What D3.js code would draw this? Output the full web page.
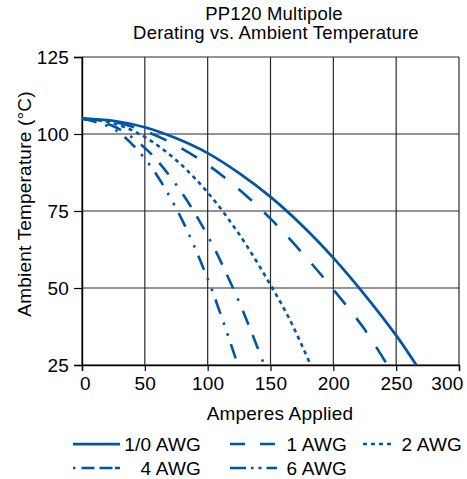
<!DOCTYPE html>
<html>
<head>
<meta charset="utf-8">
<script src="https://cdn.jsdelivr.net/npm/d3@7"></script>
<style>
  body { margin: 0; background: #fff; }
  svg { display: block; font-family: "Liberation Sans", Arial, sans-serif; }
  text { font-size: 19px; letter-spacing: 0.2px; }
</style>
</head>
<body>
<svg id="chart" width="467" height="479"></svg>
<script>
// values
const amps10 = [0, 25, 50, 75, 100, 125, 150, 175, 200, 225, 250, 266];
const temp10 = [105, 104.3, 102.2, 98.6, 93.8, 87.3, 79.6, 70.4, 59.8, 47.8, 34.6, 25];
const amps1 = [0, 25, 50, 75, 100, 125, 150, 175, 200, 225, 243];
const temp1 = [105, 104, 101, 96.3, 90, 82, 72.5, 61.5, 49.5, 36.5, 25];
const amps2 = [0, 25, 50, 75, 100, 125, 150, 165, 182];
const temp2 = [105, 103.5, 99, 91.5, 81, 67.5, 51, 40, 25];
const amps4 = [0, 25, 50, 75, 100, 125, 145];
const temp4 = [105, 102.5, 95.5, 83.5, 67, 45.5, 25];
const amps6 = [0, 25, 50, 75, 100, 124];
const temp6 = [105, 101.7, 92, 75.8, 53, 25];

const seriesNames = ["1/0 AWG", "1 AWG", "2 AWG", "4 AWG", "6 AWG"];
const xTicks = [0, 50, 100, 150, 200, 250, 300];
const yTicks = [25, 50, 75, 100, 125];
const titleLines = ["PP120 Multipole", "Derating vs. Ambient Temperature"];

const series = [
  {name: seriesNames[0], xs: amps10, ys: temp10, dash: null, w: 2.75},
  {name: seriesNames[1], xs: amps1, ys: temp1, dash: "18,17", w: 2.6},
  {name: seriesNames[2], xs: amps2, ys: temp2, dash: "4,4", w: 2.6},
  {name: seriesNames[3], xs: amps4, ys: temp4, dash: "15,11,15,11,2.5,11", w: 2.6},
  {name: seriesNames[4], xs: amps6, ys: temp6, dash: "15,9,2.5,9,2.5,9", w: 2.6}
];

const blue = "#0056a6";
const svg = d3.select("#chart");
const m = {left: 82, right: 459, top: 57, bottom: 365};

const x = d3.scaleLinear().domain([0, 300]).range([m.left, m.right]);
const y = d3.scaleLinear().domain([25, 125]).range([m.bottom, m.top]);

// grid
svg.append("g").selectAll("line").data(xTicks).enter().append("line")
  .attr("x1", d => x(d)).attr("x2", d => x(d))
  .attr("y1", m.top).attr("y2", m.bottom)
  .attr("stroke", "#2a2a2a").attr("stroke-width", 1.2);
svg.append("g").selectAll("line").data(yTicks).enter().append("line")
  .attr("x1", m.left).attr("x2", m.right)
  .attr("y1", d => y(d)).attr("y2", d => y(d))
  .attr("stroke", "#2a2a2a").attr("stroke-width", 1.2);

// axes
const xAxis = svg.append("g")
  .attr("transform", `translate(0,${m.bottom})`)
  .call(d3.axisBottom(x).tickValues(xTicks).tickSize(6).tickPadding(6));
const yAxis = svg.append("g")
  .attr("transform", `translate(${m.left},0)`)
  .call(d3.axisLeft(y).tickValues(yTicks).tickSize(8).tickPadding(5));

[xAxis, yAxis].forEach(g => {
  g.select(".domain").attr("stroke", "#000").attr("stroke-width", 1.4);
  g.selectAll(".tick line").attr("stroke", "#000").attr("stroke-width", 1.2);
  g.selectAll(".tick text").attr("fill", "#000")
    .style("font-size", "19px").style("font-family", "Liberation Sans, Arial, sans-serif");
});
// first and last x labels nudged as in the reference
xAxis.selectAll(".tick text").filter(d => d === 0).attr("dx", "3");
xAxis.selectAll(".tick text").filter(d => d === 300).attr("text-anchor", "end").attr("dx", "4");

// curves
const line = d3.line()
  .x(d => x(d[0])).y(d => y(d[1]))
  .curve(d3.curveCatmullRom.alpha(0.5));

svg.append("defs").append("clipPath").attr("id", "plotclip")
  .append("rect").attr("x", m.left - 4).attr("y", m.top)
  .attr("width", m.right - m.left + 4).attr("height", m.bottom - m.top + 2);

svg.append("g").attr("clip-path", "url(#plotclip)")
  .selectAll("path").data(series).enter().append("path")
  .attr("d", s => line(s.xs.map((v, i) => [v, s.ys[i]])))
  .attr("fill", "none")
  .attr("stroke", blue)
  .attr("stroke-width", s => s.w)
  .attr("stroke-dasharray", s => s.dash);

// titles
svg.append("text").attr("x", 274).attr("y", 20).attr("text-anchor", "middle")
  .style("font-size", "18.5px").text(titleLines[0]);
svg.append("text").attr("x", 276).attr("y", 39).attr("text-anchor", "middle")
  .style("font-size", "18.5px").text(titleLines[1]);

svg.append("text").attr("x", 280).attr("y", 420).attr("text-anchor", "middle")
  .text("Amperes Applied");
svg.append("text")
  .attr("transform", "translate(31,204) rotate(-90)")
  .attr("text-anchor", "middle")
  .text("Ambient Temperature (°C)");

// legend
const legendPos = [
  {x1: 73, x2: 120, tx: 201, y: 444},
  {x1: 230, x2: 277, tx: 347, y: 444},
  {x1: 363, x2: 395, tx: 462, y: 444},
  {x1: 73, x2: 120, tx: 201, y: 468},
  {x1: 230, x2: 277, tx: 347, y: 468}
];
const legendDash = [null, "15,15", "4,4", "2.5,6,13,5,13", "16,5,2.5,5,3,5"];
const legend = svg.append("g").selectAll("g").data(series).enter().append("g");
legend.append("line")
  .attr("x1", (s, i) => legendPos[i].x1).attr("x2", (s, i) => legendPos[i].x2)
  .attr("y1", (s, i) => legendPos[i].y).attr("y2", (s, i) => legendPos[i].y)
  .attr("stroke", blue).attr("stroke-width", s => s.w)
  .attr("stroke-dasharray", (s, i) => legendDash[i]);
legend.append("text")
  .attr("x", (s, i) => legendPos[i].tx).attr("y", (s, i) => legendPos[i].y + 7)
  .attr("text-anchor", "end")
  .text(s => s.name);
</script>
</body>
</html>
